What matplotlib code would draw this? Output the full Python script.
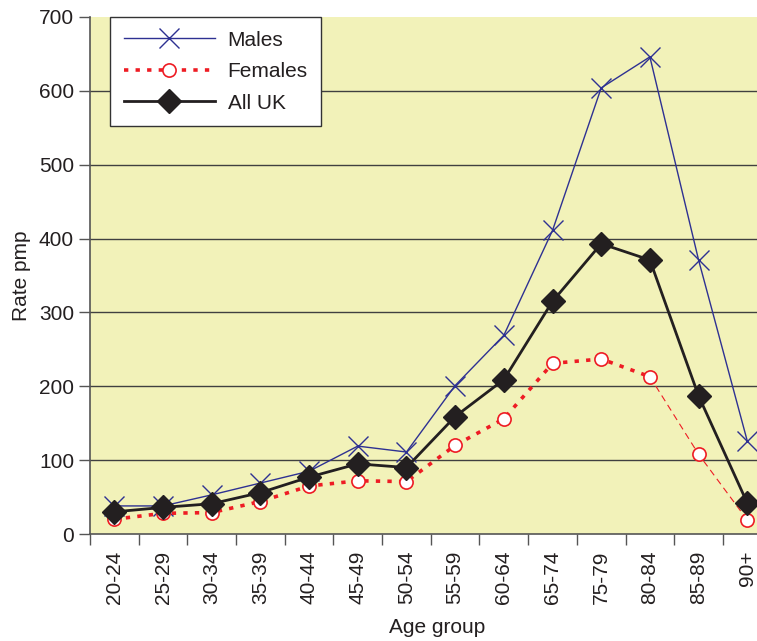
import numpy as np
import matplotlib.pyplot as plt

plt.rcParams['font.family'] = ['Liberation Sans', 'DejaVu Sans']

age_groups = ['20-24', '25-29', '30-34', '35-39', '40-44', '45-49', '50-54',
              '55-59', '60-64', '65-74', '75-79', '80-84', '85-89', '90+']
males = [38, 38, 53, 69, 85, 119, 111, 201, 269, 411, 604, 646, 371, 126]
females = [20, 28, 29, 44, 65, 72, 71, 120, 156, 231, 237, 213, 108, 19]
all_uk = [30, 36, 41, 56, 77, 95, 90, 159, 209, 315, 393, 371, 187, 42]

text_col = '#231F20'
x = np.arange(len(age_groups))

fig = plt.figure(figsize=(7.57, 6.41), dpi=100)
ax = fig.add_axes([90 / 757, 107 / 641, 667 / 757, 517 / 641])
ax.set_facecolor('#F2F2B9')

ax.plot(x, males, color='#2E3192', lw=1.0, marker='x', ms=14, mew=1.0,
        label='Males', zorder=3)

# females: heavy dotted line, thin dashed after 80-84
ax.plot(x[:12], females[:12], color='#EE1C24', lw=2.6, ls=(0, (1.2, 2.0)),
        zorder=3)
ax.plot(x[11:], females[11:], color='#EE1C24', lw=0.8, ls=(0, (6, 4)),
        zorder=3)
ax.plot(x, females, ls='none', marker='o', ms=9.5, mfc='white',
        mec='#EE1C24', mew=1.2, zorder=4)
ax.plot([], [], color='#EE1C24', lw=2.6, ls=(0, (1.2, 2.0)), marker='o',
        ms=9.5, mfc='white', mec='#EE1C24', mew=1.2, label='Females')

ax.plot(x, all_uk, color=text_col, lw=2.0, marker='D', ms=12,
        label='All UK', zorder=5)

ax.set_ylim(0, 700)
ax.set_xlim(-0.5, 13.2)
ax.set_yticks(range(0, 701, 100))
for v in range(100, 700, 100):
    ax.axhline(v, color='#404040', lw=1.0, zorder=1)

ax.set_xticks(x)
ax.set_xticklabels(age_groups, rotation=90)
ax.set_xticks(np.arange(-0.5, 13.5, 1), minor=True)
ax.tick_params(axis='x', which='major', length=0, pad=12)
ax.tick_params(axis='x', which='minor', length=8, width=1, color='#555555')
ax.tick_params(axis='y', length=8, width=1, color='#555555')
ax.tick_params(labelsize=15, labelcolor=text_col)

for s in ['top', 'right']:
    ax.spines[s].set_visible(False)
for s in ['left', 'bottom']:
    ax.spines[s].set_color('#555555')
    ax.spines[s].set_linewidth(1.2)

ax.set_xlabel('Age group', fontsize=15, color=text_col)
ax.xaxis.set_label_coords(0.52, -0.163)
ax.set_ylabel('Rate pmp', fontsize=15, color=text_col, labelpad=6)

leg = ax.legend(loc='upper left', bbox_to_anchor=(0.03, 1.0), fontsize=15,
                frameon=True, fancybox=False, framealpha=1.0,
                handlelength=4.4, borderpad=0.65, labelspacing=0.6,
                handletextpad=0.6, borderaxespad=0)
leg.get_frame().set_edgecolor('#333333')
leg.get_frame().set_linewidth(1.0)
for t in leg.get_texts():
    t.set_color(text_col)

fig.savefig('out.png', dpi=100)
